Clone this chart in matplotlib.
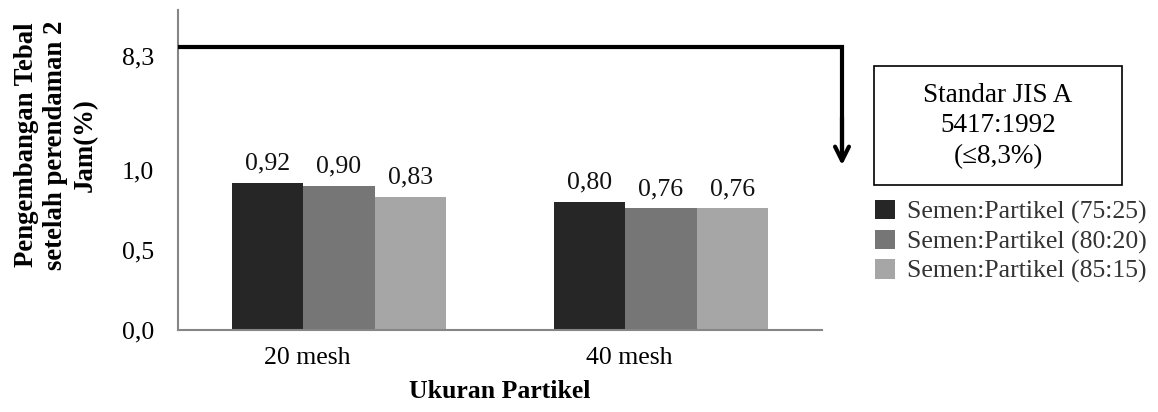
import matplotlib
matplotlib.use("Agg")
import matplotlib.pyplot as plt
import numpy as np
from matplotlib.patches import Rectangle

# ---- data ----
categories = ["20 mesh", "40 mesh"]
series_names = ["Semen:Partikel (75:25)", "Semen:Partikel (80:20)", "Semen:Partikel (85:15)"]
s1 = [0.92, 0.80]
s2 = [0.90, 0.76]
s3 = [0.83, 0.76]
series = [s1, s2, s3]
ytick_values = [0.0, 0.5, 1.0]
standard_value = 8.3
standard_text = "Standar JIS A\n5417:1992\n(\u22648,3%)"

# ---- style / layout ----
colors = ["#262626", "#767676", "#a6a6a6"]
break_tick_pos = 1.71   # axis position where the broken-axis "8,3" label sits
break_line_pos = 1.77   # axis position of the standard line
label_offset = -0.10    # category labels sit slightly left of group centres
FS = 18.5
plt.rcParams["font.family"] = ["Liberation Serif", "DejaVu Serif"]

W, H = 1158, 412
fig = plt.figure(figsize=(W / 100, H / 100), dpi=100)
ax = fig.add_axes([178 / W, (H - 330) / H, (822 - 178) / W, (330 - 10) / H])

x = np.arange(len(categories))
bw = 0.222
bars = []
for i, (vals, c, name) in enumerate(zip(series, colors, series_names)):
    b = ax.bar(x + (i - 1) * bw, vals, bw, color=c, label=name, zorder=2)
    bars.append(b)
    for xi, v in zip(x + (i - 1) * bw, vals):
        ax.annotate(f"{v:.2f}".replace(".", ","), (xi, v), xytext=(0, 6),
                    textcoords="offset points", ha="center", va="bottom",
                    fontsize=FS, color="#111111")

ax.set_xlim(-0.5, 1.5)
ax.set_ylim(0, 2.0)
ax.set_xticks(x + label_offset)
ax.set_xticklabels(categories, fontsize=FS)
ax.set_yticks(ytick_values + [break_tick_pos])
ax.set_yticklabels([f"{v:.1f}".replace(".", ",") for v in ytick_values]
                   + [f"{standard_value:.1f}".replace(".", ",")], fontsize=FS)
ax.tick_params(axis="both", length=0)
ax.tick_params(axis="y", pad=17)
ax.tick_params(axis="x", pad=12)
for s in ["top", "right"]:
    ax.spines[s].set_visible(False)
for s in ["left", "bottom"]:
    ax.spines[s].set_color("#868686")
    ax.spines[s].set_linewidth(1.5)

ax.set_xlabel("Ukuran Partikel", fontsize=FS, fontweight="bold", labelpad=8)
fig.text(56 / W, (H - 145) / H, "Pengembangan Tebal\nsetelah perendaman 2\nJam(%)",
         rotation=90, ha="center", va="center", fontsize=19.3, fontweight="bold",
         linespacing=1.25, multialignment="center")

# standard line with arrow
x_turn = -0.5 + (842 - 178) / 322.0
y_tip = 1.03
ax.plot([-0.5, x_turn, x_turn], [break_line_pos, break_line_pos, y_tip + 0.05],
        color="black", lw=3, clip_on=False, solid_joinstyle="miter",
        solid_capstyle="butt", zorder=5)
ax.annotate("", xy=(x_turn, y_tip), xytext=(x_turn, y_tip + 0.3),
            arrowprops=dict(arrowstyle="->,head_length=1.0,head_width=0.5",
                            color="black", lw=3, shrinkA=0, shrinkB=0),
            annotation_clip=False, zorder=5)

# standard text box
fig.patches.append(Rectangle((874 / W, (H - 185) / H), 248 / W, 119 / H,
                             transform=fig.transFigure, fill=False,
                             edgecolor="black", lw=1.2))
fig.text(998 / W, (H - 126) / H, standard_text, ha="center", va="center",
         fontsize=19.5, linespacing=1.3)

# legend
leg = fig.legend(handles=bars, labels=series_names, loc="upper left",
                 bbox_to_anchor=(875 / W, (H - 200) / H), frameon=False,
                 fontsize=FS, handlelength=0.78, handleheight=0.78,
                 handletextpad=0.47, labelspacing=0.22, borderpad=0,
                 borderaxespad=0)
for t in leg.get_texts():
    t.set_color("#333333")

fig.savefig("out.png", dpi=100)
